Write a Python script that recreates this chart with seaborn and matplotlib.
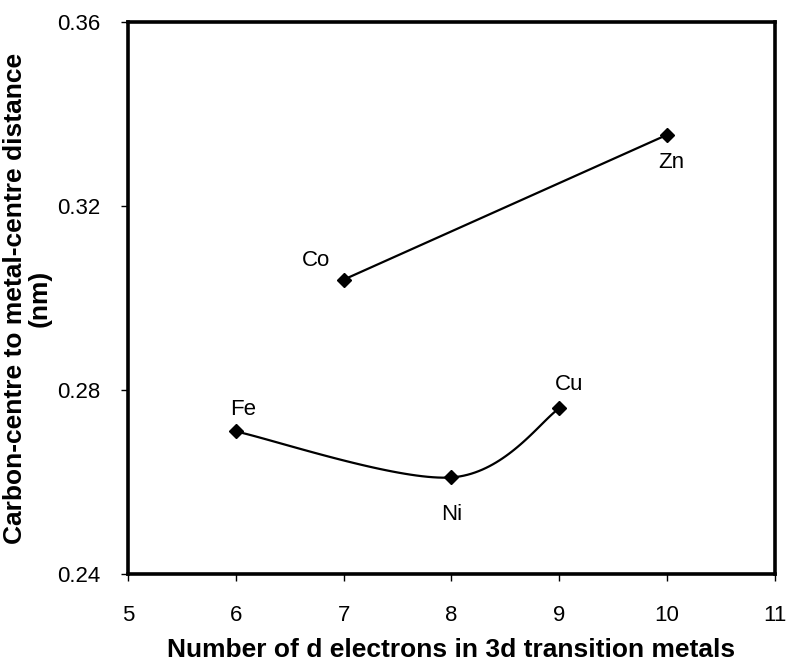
# Carbon-centre to metal-centre distance vs number of d electrons

import numpy as np
import seaborn as sns
import matplotlib.pyplot as plt

sns.set_style('ticks')
plt.rcParams['font.family'] = ['Liberation Sans', 'DejaVu Sans']
plt.rcParams['text.color'] = 'black'
plt.rcParams['axes.labelcolor'] = 'black'

# upper branch (straight line)
upper_metals = ['Co', 'Zn']
upper_d = [7, 10]
upper_dist = [0.304, 0.3355]

# lower branch (smoothed line)
lower_metals = ['Fe', 'Ni', 'Cu']
lower_d = [6, 8, 9]
lower_dist = [0.271, 0.261, 0.276]

# label offsets in points
label_offsets = {'Co': (-20, 14), 'Zn': (3, -20), 'Fe': (5, 16),
                 'Ni': (0, -27), 'Cu': (7, 17)}


def smooth_curve(x, y, sx, sy, n=40):
    # Excel-like smoothing: cubic Bezier with Catmull-Rom control points,
    # worked out in screen-proportional units (sx, sy = pixels per unit)
    p = np.column_stack([np.asarray(x, float) * sx, np.asarray(y, float) * sy])
    p = np.vstack([p[0], p, p[-1]])
    t = np.linspace(0, 1, n)[:, None]
    out = []
    for i in range(1, len(p) - 2):
        p0, p1, p2, p3 = p[i - 1], p[i], p[i + 1], p[i + 2]
        c1 = p1 + (p2 - p0) / 6
        c2 = p2 - (p3 - p1) / 6
        seg = ((1 - t) ** 3) * p1 + 3 * ((1 - t) ** 2) * t * c1 \
            + 3 * (1 - t) * t ** 2 * c2 + t ** 3 * p2
        out.append(seg if i == 1 else seg[1:])
    out = np.vstack(out)
    return out[:, 0] / sx, out[:, 1] / sy


fig = plt.figure(figsize=(7.9, 6.61), dpi=100)
ax = fig.add_axes([0.162, 0.1316, 0.819, 0.835])

# straight line Co-Zn
sns.lineplot(x=upper_d, y=upper_dist, ax=ax, color='black', lw=1.6)
ax.plot(upper_d, upper_dist, ls='none', marker='D', ms=7, color='black')

# smoothed line Fe-Ni-Cu
xs, ys = smooth_curve(lower_d, lower_dist, 107.8, 4600)
ax.plot(xs, ys, color='black', lw=1.6)
ax.plot(lower_d, lower_dist, ls='none', marker='D', ms=7, color='black')

for names, xv, yv in [(upper_metals, upper_d, upper_dist),
                      (lower_metals, lower_d, lower_dist)]:
    for nm, xx, yy in zip(names, xv, yv):
        ax.annotate(nm, (xx, yy), xytext=label_offsets[nm],
                    textcoords='offset points', ha='center', va='center',
                    fontsize=16, color='black')

ax.set_xlim(5, 11)
ax.set_ylim(0.24, 0.36)
ax.set_xticks(range(5, 12))
ax.set_yticks([0.24, 0.28, 0.32, 0.36])
ax.set_yticklabels(['0.24', '0.28', '0.32', '0.36'])

for s in ax.spines.values():
    s.set_visible(True)
    s.set_linewidth(2.6)
    s.set_color('black')

ax.tick_params(direction='out', length=5, width=1, labelsize=16,
               colors='black')
ax.tick_params(axis='x', pad=17)
ax.tick_params(axis='y', pad=15)

ax.set_xlabel('Number of d electrons in 3d transition metals',
              fontsize=19, fontweight='bold', labelpad=9)
ax.set_ylabel('Carbon-centre to metal-centre distance\n(nm)',
              fontsize=19, fontweight='bold', labelpad=4, linespacing=1.0)

fig.savefig('out.png', dpi=100, facecolor='white')
